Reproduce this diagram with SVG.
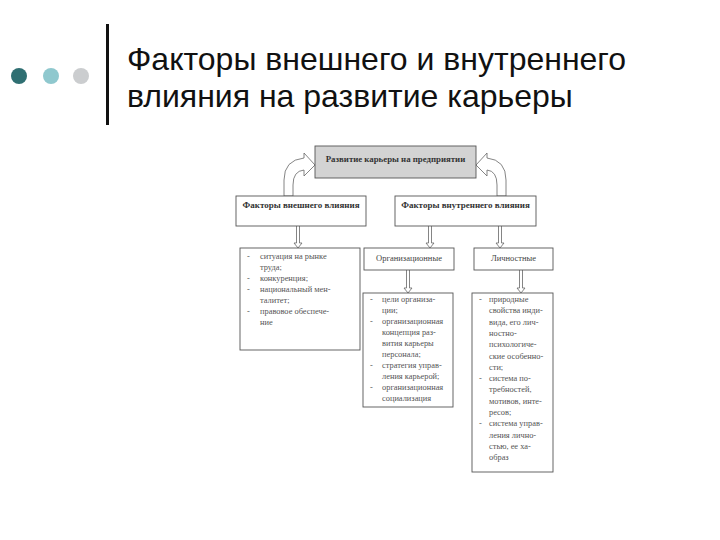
<svg xmlns="http://www.w3.org/2000/svg" width="720" height="540" viewBox="0 0 720 540">
<style>
.title{font-family:"Liberation Sans",Arial,sans-serif;font-size:32px;fill:#111}
.box{fill:#fff;stroke:#555;stroke-width:0.9}
.hdr{font-family:"Liberation Serif","Times New Roman",serif;font-size:9px;font-weight:bold;fill:#333}
.lbl{font-family:"Liberation Serif","Times New Roman",serif;font-size:8.5px;fill:#444}
.li{font-family:"Liberation Serif","Times New Roman",serif;font-size:8.4px;fill:#555}
.arr{fill:#fff;stroke:#666;stroke-width:0.8}
</style>
<rect width="720" height="540" fill="#fff"/>
<g id="decor">
<circle cx="19" cy="76" r="8" fill="#2f6f72"/>
<circle cx="51" cy="76" r="8" fill="#8fc8ce"/>
<circle cx="81" cy="76" r="8" fill="#cbcdcf"/>
<rect x="106" y="24" width="3" height="101" fill="#111"/>
</g>
<g id="title">
<text class="title" x="127" y="70">Факторы внешнего и внутреннего</text>
<text class="title" x="127" y="107">влияния на развитие карьеры</text>
</g>
<g id="connectors">
<path class="arr" d="M284,196 L284,180 Q284,160 304,158 L304,153 L315,165 L304,176 L304,170 Q293,171 293,185 L293,196 Z"/>
<path class="arr" d="M506,196 L506,180 Q506,160 487,158 L487,153 L476,165 L487,176 L487,170 Q497,171 497,185 L497,196 Z"/>
<path class="arr" d="M296.5,226 V243 L294,243 L298,248 L302,243 L299.5,243 V226"/>
<path class="arr" d="M428.5,226 V243 L426,243 L430,248 L434,243 L431.5,243 V226"/>
<path class="arr" d="M498.5,226 V243 L496,243 L500,248 L504,243 L501.5,243 V226"/>
<path class="arr" d="M406.5,270 V288 L404,288 L408,293 L412,288 L409.5,288 V270"/>
<path class="arr" d="M519.5,270 V288 L517,288 L521,293 L525,288 L522.5,288 V270"/>
</g>
<g id="top">
<rect x="315" y="146" width="161" height="32" fill="#d3d3d3" stroke="#555" stroke-width="0.9"/>
<text class="hdr" x="395.5" y="162" text-anchor="middle" style="font-size:8.8px">Развитие карьеры на предприятии</text>
</g>
<g id="external">
<rect class="box" x="236" y="196" width="130" height="30"/>
<text class="hdr" x="301" y="208" text-anchor="middle">Факторы внешнего влияния</text>
</g>
<g id="internal">
<rect class="box" x="395" y="196" width="141" height="30"/>
<text class="hdr" x="465.5" y="208" text-anchor="middle">Факторы внутреннего влияния</text>
</g>
<g id="ext-list">
<rect class="box" x="240" y="248" width="120" height="102"/>
<g class="li">
<text x="247" y="259">-</text><text x="260" y="259">ситуация на рынке</text>
<text x="260" y="270">труда;</text>
<text x="247" y="281">-</text><text x="260" y="281">конкуренция;</text>
<text x="247" y="292">-</text><text x="260" y="292">национальный мен-</text>
<text x="260" y="303">талитет;</text>
<text x="247" y="314">-</text><text x="260" y="314">правовое обеспече-</text>
<text x="260" y="325">ние</text>
</g>
</g>
<g id="org">
<rect class="box" x="364" y="248" width="90" height="22"/>
<text class="lbl" x="409" y="261" text-anchor="middle">Организационные</text>
</g>
<g id="pers">
<rect class="box" x="474" y="248" width="79" height="22"/>
<text class="lbl" x="513.5" y="261" text-anchor="middle">Личностные</text>
</g>
<g id="org-list">
<rect class="box" x="363" y="293" width="90" height="114"/>
<g class="li">
<text x="370" y="302">-</text><text x="382" y="302">цели организа-</text>
<text x="382" y="313">ции;</text>
<text x="370" y="324">-</text><text x="382" y="324">организационная</text>
<text x="382" y="335">концепция раз-</text>
<text x="382" y="346">вития карьеры</text>
<text x="382" y="357">персонала;</text>
<text x="370" y="368">-</text><text x="382" y="368">стратегия управ-</text>
<text x="382" y="379">ления карьерой;</text>
<text x="370" y="390">-</text><text x="382" y="390">организационная</text>
<text x="382" y="401">социализация</text>
</g>
</g>
<g id="pers-list">
<rect class="box" x="472" y="293" width="81" height="179"/>
<g class="li">
<text x="479" y="302">-</text><text x="489" y="302">природные</text>
<text x="489" y="313.3">свойства инди-</text>
<text x="489" y="324.6">вида, его лич-</text>
<text x="489" y="335.9">ностно-</text>
<text x="489" y="347.2">психологиче-</text>
<text x="489" y="358.5">ские особенно-</text>
<text x="489" y="369.8">сти;</text>
<text x="479" y="381.1">-</text><text x="489" y="381.1">система по-</text>
<text x="489" y="392.4">требностей,</text>
<text x="489" y="403.7">мотивов, инте-</text>
<text x="489" y="415">ресов;</text>
<text x="479" y="426.3">-</text><text x="489" y="426.3">система управ-</text>
<text x="489" y="437.6">ления лично-</text>
<text x="489" y="448.9">стью, ее ха-</text>
<text x="489" y="460.2">образ</text>
</g>
</g>
</svg>
